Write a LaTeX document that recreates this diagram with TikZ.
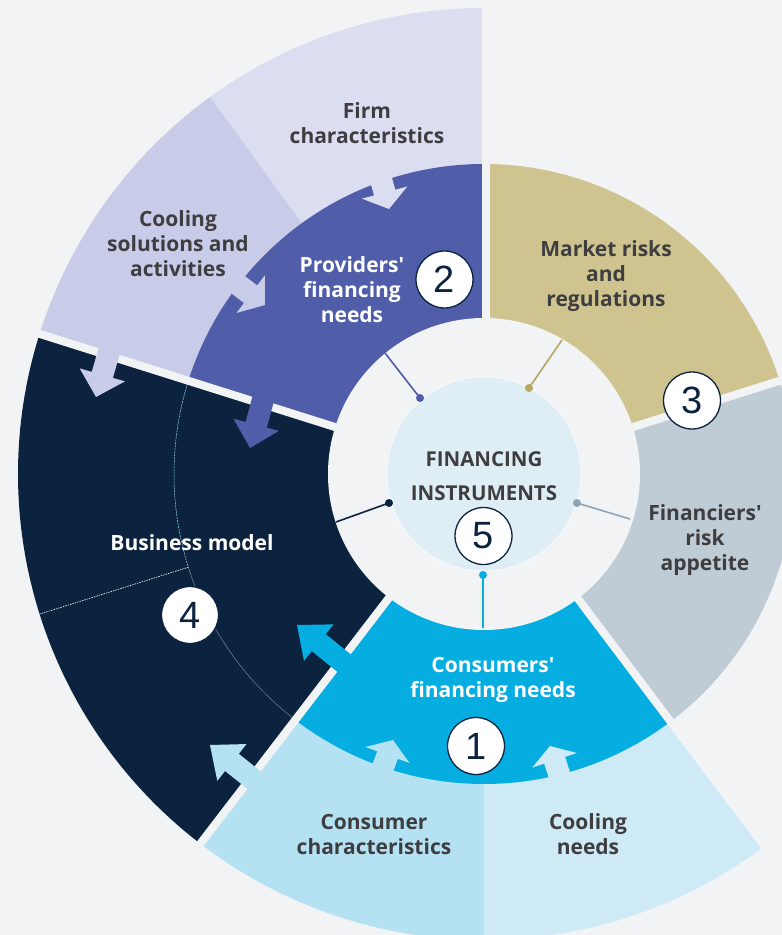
\documentclass[tikz,border=0pt]{standalone}
\usepackage{fontspec}
\newfontfamily\lblfont{Open Sans}
\newfontfamily\numfont{Liberation Sans}

% palette
\definecolor{bgc}{HTML}{F2F3F5}
\definecolor{firmc}{HTML}{DBDDF0}
\definecolor{coolsolc}{HTML}{C9CCE8}
\definecolor{provc}{HTML}{505DA9}
\definecolor{marketc}{HTML}{CFC48F}
\definecolor{marketln}{HTML}{B8A763}
\definecolor{finc}{HTML}{BFCBD5}
\definecolor{finln}{HTML}{8EA4B5}
\definecolor{consc}{HTML}{05ADE1}
\definecolor{conschc}{HTML}{B4E2F3}
\definecolor{coolneedc}{HTML}{CDEAF6}
\definecolor{navy}{HTML}{0C2340}
\definecolor{corec}{HTML}{DFEEF5}
\definecolor{txtdark}{HTML}{3E3E40}

% annular piece: colour, inner r, outer r, start angle, end angle
\newcommand\ringpiece[5]{%
  \fill[#1] (#4:#2pt) arc[start angle=#4, end angle=#5, radius=#2pt]
    -- (#5:#3pt) arc[start angle=#5, end angle=#4, radius=#3pt] -- cycle;}

% block arrow: colour, tip x, tip y, direction, head length
\newcommand\blockarrow[5]{%
  \fill[#1, shift={(#2,#3)}, rotate=#4]
    (0,0) -- (-#5,23.5) -- (-#5,11) -- (-#5-44,11) -- (-#5-44,-11)
    -- (-#5,-11) -- (-#5,-23.5) -- cycle;}

\tikzset{
  lbl/.style={font=\lblfont\bfseries\fontsize{21}{25}\selectfont,
    text=txtdark, align=center, inner sep=0pt},
  lblw/.style={lbl, text=white},
  numc/.style={circle, draw=navy, line width=1.3pt, fill=white,
    minimum size=57pt, inner sep=0pt,
    font=\numfont\fontsize{38}{38}\selectfont, text=navy},
  gap/.style={bgc, line width=8pt},
  link/.style={line width=1.6pt},
}

\begin{document}
\begin{tikzpicture}[x=1pt, y=1pt]
  \fill[bgc] (-484,-461) rectangle (298,474);
  \clip (-484,-461) rectangle (298,474);

  % outer ring
  \ringpiece{firmc}{300}{466}{90}{126}
  \ringpiece{coolsolc}{300}{466}{126}{162.5}
  \ringpiece{conschc}{300}{466}{232.5}{270}
  \ringpiece{coolneedc}{300}{466}{270}{307}
  % inner ring
  \ringpiece{provc}{150}{310}{90}{162.5}
  \ringpiece{marketc}{150}{310}{17.5}{90}
  \ringpiece{finc}{150}{310}{-53}{17.5}
  \ringpiece{consc}{150}{310}{232.5}{307}
  % business model spans both rings
  \ringpiece{navy}{150}{466}{162.5}{232.5}

  % thin dividers inside the business model block
  \draw[color=cyan!35!white, line width=0.5pt, dash pattern=on 2pt off 1pt]
    (162.5:310pt) arc[start angle=162.5, end angle=197.5, radius=310pt];
  \draw[color=navy!55!white, line width=0.5pt]
    (197.5:310pt) arc[start angle=197.5, end angle=232.5, radius=310pt];
  \draw[white, line width=0.6pt, dash pattern=on 1.5pt off 1pt]
    (197.5:310pt) -- (197.5:466pt);

  % separating gaps
  \draw[gap] (2,0) -- (2,480);
  \draw[gap] (0,0) -- (17.5:480pt);
  \draw[gap] (0,0) -- (-53:480pt);
  \draw[gap] (0,0) -- (232.5:480pt);
  \draw[gap] (0,0) -- (162.5:480pt);

  % influence arrows
  \blockarrow{firmc}{-95}{265}{-75}{17}
  \blockarrow{coolsolc}{-219}{169}{-37}{18}
  \blockarrow{coolsolc}{-388}{77}{-106}{23}
  \blockarrow{provc}{-234}{26}{-105}{24}
  \blockarrow{consc}{-187}{-151}{141}{28}
  \blockarrow{conschc}{-274}{-271}{141.5}{28}
  \blockarrow{conschc}{-91}{-266}{70}{16}
  \blockarrow{coolneedc}{66}{-272}{108}{15}

  % central ring and core
  \fill[bgc] (0,0) circle[radius=156pt];
  \fill[corec] (0,0) circle[radius=97pt];
  \draw[corec!90!navy!8!white, line width=0.6pt] (0,0) circle[radius=97pt];

  % links from each block to the core
  \coordinate (pA) at (-99,121);   \coordinate (pB) at (-64,76);
  \coordinate (mA) at (78,134);    \coordinate (mB) at (45,86);
  \coordinate (bA) at (-148,-48);  \coordinate (bB) at (-95,-29);
  \coordinate (fA) at (146,-45);   \coordinate (fB) at (93,-29);
  \coordinate (cA) at (-1,-154);   \coordinate (cB) at (-1,-101);
  \draw[link, provc] (pA) -- (pB);
  \fill[provc] (pB) circle[radius=4pt];
  \draw[link, marketln] (mA) -- (mB);
  \fill[marketln] (mB) circle[radius=4pt];
  \draw[link, navy] (bA) -- (bB);
  \fill[navy] (bB) circle[radius=4pt];
  \draw[link, finln] (fA) -- (fB);
  \fill[finln] (fB) circle[radius=4pt];
  \draw[link, consc] (cA) -- (cB);
  \fill[consc] (cB) circle[radius=4pt];

  % labels
  \node[lbl] (firm) at (-117,351) {Firm\\characteristics};
  \node[lbl] (coolsol) at (-306,230) {Cooling\\solutions and\\activities};
  \node[lblw] (prov) at (-132,184) {Providers'\\financing\\needs};
  \node[lbl] (market) at (122,198) {Market risks\\and\\regulations};
  \node[lbl] (fin) at (221,-66) {Financiers'\\risk\\appetite};
  \node[lbl, font=\lblfont\bfseries\fontsize{20.5}{34}\selectfont]
    (core) at (0,-2) {FINANCING\\INSTRUMENTS};
  \node[lblw] (biz) at (-292,-69) {Business model};
  \node[lblw] (cons) at (9,-206) {Consumers'\\financing needs};
  \node[lbl] (consch) at (-110,-360) {Consumer\\characteristics};
  \node[lbl] (coolneed) at (104,-360) {Cooling\\needs};

  % numbered badges
  \node[numc] (n1) at (-8,-272) {1};
  \node[numc] (n2) at (-39.5,194.5) {2};
  \node[numc] (n3) at (208,73.5) {3};
  \node[numc] (n4) at (-294,-141) {4};
  \node[numc] (n5) at (-0.5,-62) {5};
\end{tikzpicture}
\end{document}
